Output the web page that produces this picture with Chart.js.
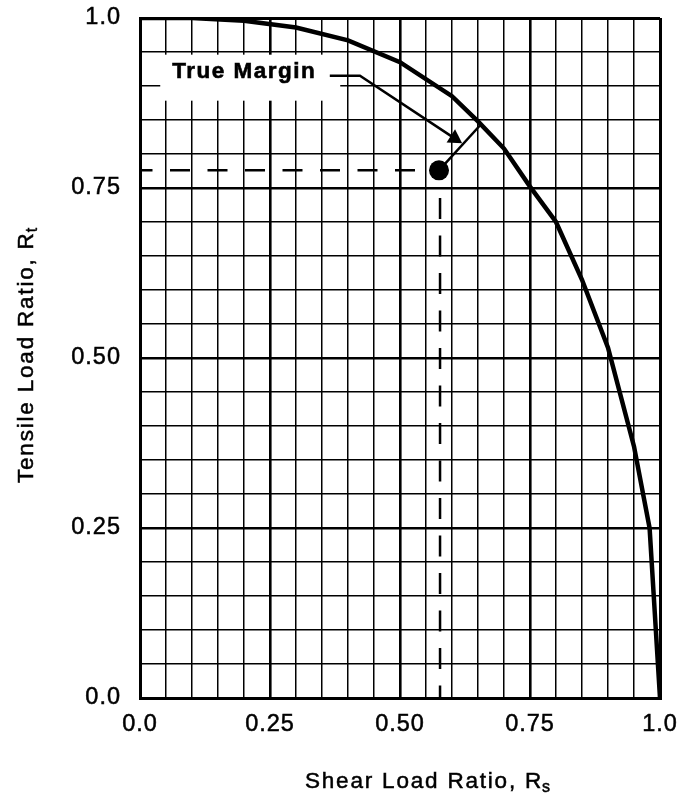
<!DOCTYPE html>
<html>
<head>
<meta charset="utf-8">
<script src="https://cdn.jsdelivr.net/npm/chart.js@4/dist/chart.umd.min.js"></script>
<style>
  html, body { margin: 0; padding: 0; background: #fff; }
  #c { display: block; }
</style>
</head>
<body>
<canvas id="c" width="685" height="798"></canvas>
<script>
// ---- data ----
const shearRatio   = [0, 0.1, 0.2, 0.3, 0.4, 0.5, 0.6, 0.65, 0.7, 0.75, 0.8, 0.85, 0.9, 0.95, 0.98, 1.0];
const tensileRatio = [1.0, 1.0, 0.996, 0.986, 0.967, 0.935, 0.885, 0.848, 0.808, 0.752, 0.70, 0.615, 0.515, 0.37, 0.25, 0.0];

const tickValues  = [0, 0.25, 0.5, 0.75, 1];
const xTickLabels = ['0.0', '0.25', '0.50', '0.75', '1.0'];
const yTickLabels = ['0.0', '0.25', '0.50', '0.75', '1.0'];

const pointRs = [0.575];
const pointRt = [0.776];

const hDashRs = [0, 0.56];
const hDashRt = [0.776, 0.776];
const vDashRs = [0.577, 0.577];
const vDashRt = [0.74, 0];

const marginRs = [0.575, 0.655];
const marginRt = [0.776, 0.843];

const arrowRs = [0.365, 0.423, 0.605];
const arrowRt = [0.915, 0.915, 0.823];
const arrowHeadRs = [0.605];
const arrowHeadRt = [0.823];

const labelText = 'True Margin';
const labelRs = [0.062];
const labelRt = [0.924];

const xTitle = ['Shear Load Ratio, R', 's'];
const yTitle = ['Tensile Load Ratio, R', 't'];

// ---- helpers ----
const zip = (xs, ys) => xs.map((x, i) => ({ x: x, y: ys[i] }));
function labelFor(v, labels) {
  for (let i = 0; i < tickValues.length; i++) {
    if (Math.abs(v - tickValues[i]) < 1e-6) return labels[i];
  }
  return '';
}
function gridWidth(ctx) {
  const v = ctx.tick ? ctx.tick.value : 0;
  if (Math.abs(v) < 1e-6 || Math.abs(v - 1) < 1e-6) return 3;
  for (const t of tickValues) if (Math.abs(v - t) < 1e-6) return 2.6;
  return 1.5;
}
const FONT = "'Liberation Sans', Arial, Helvetica, sans-serif";

const decorPlugin = {
  id: 'decor',
  beforeDraw(chart) {
    chart.ctx.letterSpacing = '1px';
  },
  beforeDatasetsDraw(chart) {
    const ctx = chart.ctx;
    const xs = chart.scales.x, ys = chart.scales.y;
    const lx = xs.getPixelForValue(labelRs[0]);
    const ly = ys.getPixelForValue(labelRt[0]);
    ctx.save();
    ctx.fillStyle = '#fff';
    ctx.fillRect(lx - 12, ly - 15, 180, 46);
    ctx.restore();
  },
  afterDatasetsDraw(chart) {
    const ctx = chart.ctx;
    const xs = chart.scales.x, ys = chart.scales.y;
    const lx = xs.getPixelForValue(labelRs[0]);
    const ly = ys.getPixelForValue(labelRt[0]);
    ctx.save();
    ctx.letterSpacing = '1.5px';
    ctx.fillStyle = '#000';
    ctx.strokeStyle = '#000';
    ctx.lineWidth = 0.6;
    ctx.font = 'bold 22.5px ' + FONT;
    ctx.textAlign = 'left';
    ctx.textBaseline = 'alphabetic';
    ctx.fillText(labelText, lx, ly + 8);
    ctx.strokeText(labelText, lx, ly + 8);
    ctx.restore();
  },
  afterDraw(chart) {
    const ctx = chart.ctx;
    ctx.save();
    ctx.letterSpacing = '1.8px';
    ctx.fillStyle = '#000';
    ctx.strokeStyle = '#000';
    ctx.lineWidth = 0.5;
    ctx.textAlign = 'left';
    ctx.textBaseline = 'alphabetic';
    const both = (t, x, y) => { ctx.fillText(t, x, y); ctx.strokeText(t, x, y); };
    // x title
    ctx.font = '22.5px ' + FONT;
    const w1 = ctx.measureText(xTitle[0]).width;
    const x0 = 305, yb = 788;
    both(xTitle[0], x0, yb);
    ctx.font = '16px ' + FONT;
    both(xTitle[1], x0 + w1 - 1, yb + 4);
    // y title (rotated)
    ctx.translate(33, 483);
    ctx.rotate(-Math.PI / 2);
    ctx.font = '22.5px ' + FONT;
    const w2 = ctx.measureText(yTitle[0]).width;
    both(yTitle[0], 0, 0);
    ctx.font = '16px ' + FONT;
    both(yTitle[1], w2 - 1, 4);
    ctx.restore();
  }
};

new Chart(document.getElementById('c'), {
  type: 'scatter',
  data: {
    datasets: [
      { data: zip(shearRatio, tensileRatio), showLine: true, borderColor: '#000', borderWidth: 4.5,
        pointRadius: 0, tension: 0, fill: false },
      { data: zip(pointRs, pointRt), pointRadius: 10, pointStyle: 'circle',
        backgroundColor: '#000', borderColor: '#000', borderWidth: 0 },
      { data: zip(arrowHeadRs, arrowHeadRt), pointRadius: 9, pointStyle: 'triangle', rotation: 123,
        backgroundColor: '#000', borderColor: '#000', borderWidth: 0 },
      { data: zip(marginRs, marginRt), showLine: true, borderColor: '#000', borderWidth: 2.5, pointRadius: 0 },
      { data: zip(arrowRs, arrowRt), showLine: true, borderColor: '#000', borderWidth: 2.5, pointRadius: 0 },
      { data: zip(hDashRs, hDashRt), showLine: true, borderColor: '#000', borderWidth: 2.5, pointRadius: 0,
        borderDash: [20, 17.5], borderDashOffset: 7.5 },
      { data: zip(vDashRs, vDashRt), showLine: true, borderColor: '#000', borderWidth: 2.5, pointRadius: 0,
        borderDash: [21, 16.5], borderDashOffset: 34.3 }
    ]
  },
  options: {
    responsive: false,
    animation: false,
    devicePixelRatio: 1,
    layout: { padding: { left: 0, top: 18, right: 25, bottom: 0 } },
    plugins: { legend: { display: false }, tooltip: { enabled: false }, title: { display: false } },
    scales: {
      x: {
        type: 'linear', min: 0, max: 1,
        afterFit(scale) { scale.height = 100; scale.paddingLeft = 0; scale.paddingRight = 0; },
        ticks: {
          stepSize: 0.05, autoSkip: false, maxRotation: 0, padding: 12,
          color: '#000', font: { size: 23.5, family: FONT },
          textStrokeColor: '#000', textStrokeWidth: 0.5,
          callback: (v) => labelFor(v, xTickLabels)
        },
        grid: { color: '#000', lineWidth: gridWidth, drawTicks: false },
        border: { display: true, color: '#000', width: 3 },
        title: { display: false }
      },
      y: {
        type: 'linear', min: 0, max: 1,
        afterFit(scale) { scale.width = 140; scale.paddingTop = 0; scale.paddingBottom = 0; },
        ticks: {
          stepSize: 0.05, autoSkip: false, padding: 19,
          color: '#000', font: { size: 23.5, family: FONT },
          textStrokeColor: '#000', textStrokeWidth: 0.5,
          callback: (v) => labelFor(v, yTickLabels)
        },
        grid: { color: '#000', lineWidth: gridWidth, drawTicks: false },
        border: { display: true, color: '#000', width: 3 },
        title: { display: false }
      }
    }
  },
  plugins: [decorPlugin]
});
</script>
</body>
</html>
